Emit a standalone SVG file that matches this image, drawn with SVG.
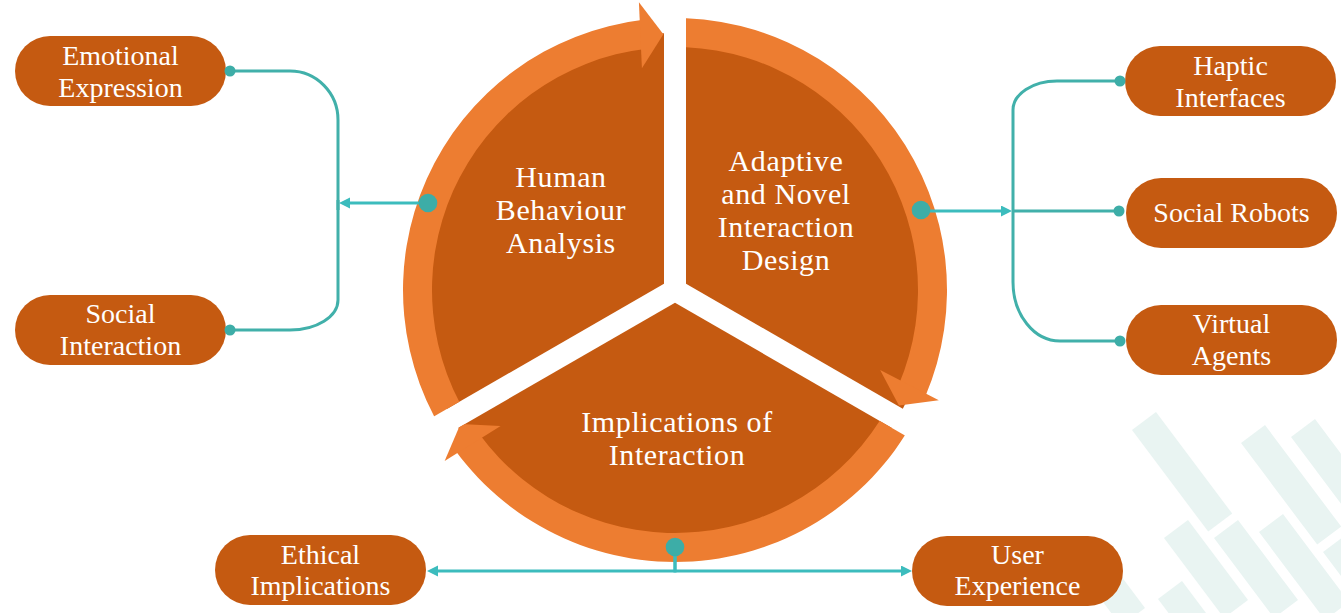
<svg xmlns="http://www.w3.org/2000/svg" width="1341" height="613" viewBox="0 0 1341 613">
<style>
.stripe{fill:#E9F4F2}
.dark{fill:#C55A11}
.ring{fill:#ED7D31}
.box{fill:#C55A11}
.ntext{font-family:"Liberation Serif","Times New Roman",serif;font-size:28px;fill:#FFFFFF;text-anchor:middle}
.ctext{font-family:"Liberation Serif","Times New Roman",serif;font-size:30px;letter-spacing:0.6px;fill:#FFFFFF;text-anchor:middle}
.branch{fill:none;stroke:#41B0AA;stroke-width:3}
.arrowline{fill:none;stroke:#3CBCBD;stroke-width:3}
.bigdot{fill:#3DADA7}
.smalldot{fill:#3DADA7}
</style>
<defs>
<marker id="ah" markerUnits="userSpaceOnUse" markerWidth="12" markerHeight="12" refX="1" refY="5.5" orient="auto">
<path d="M0,0 L11,5.5 L0,11 Z" fill="#3CBCBD"/>
</marker>
<clipPath id="clipA"><polygon points="664,283.65 144.4,583.65 57.8,-66.35 664,-316.35"/></clipPath>
<clipPath id="clipB"><polygon points="686,283.65 686,-316.35 1292.2,-66.35 1205.6,583.65"/></clipPath>
<clipPath id="clipC"><polygon points="675,302.7 1194.6,602.7 675,1002.7 155.4,602.7"/></clipPath>
</defs>

<g id="background">
<rect class="stripe" x="0" y="0" width="30" height="127" transform="translate(1132,430) rotate(-36.87)"/>
<rect class="stripe" x="0" y="0" width="30" height="127" transform="translate(1241,443) rotate(-36.87)"/>
<rect class="stripe" x="0" y="0" width="30" height="200" transform="translate(1291,437) rotate(-36.87)"/>
<rect class="stripe" x="0" y="0" width="30" height="100" transform="translate(1164,538) rotate(-36.87)"/>
<rect class="stripe" x="0" y="0" width="30" height="100" transform="translate(1214,538) rotate(-36.87)"/>
<rect class="stripe" x="0" y="0" width="30" height="110" transform="translate(1259,532) rotate(-36.87)"/>
<rect class="stripe" x="0" y="0" width="30" height="100" transform="translate(1323,552) rotate(-36.87)"/>
<rect class="stripe" x="0" y="0" width="30" height="40" transform="translate(1158,599) rotate(-36.87)"/>
<rect class="stripe" x="0" y="0" width="30" height="40" transform="translate(1097,594) rotate(-36.87)"/>
</g>

<g id="segment-human-behaviour">
<g clip-path="url(#clipA)">
<circle class="dark" cx="675" cy="290" r="257"/>
<path class="ring" d="M452.19,446.01 A272,272 0 0 1 643.27,19.86 L646.65,48.66 A243,243 0 0 0 475.95,429.38 Z"/>
<polygon class="ring" points="638.91,2.33 663.39,34.26 641.91,68.27"/>
</g>
<text class="ctext" x="561" y="187">Human</text>
<text class="ctext" x="561" y="220">Behaviour</text>
<text class="ctext" x="561" y="253">Analysis</text>
</g>

<g id="segment-adaptive-design">
<g clip-path="url(#clipB)">
<circle class="dark" cx="675" cy="290" r="257"/>
<path class="ring" d="M651.29,19.04 A272,272 0 0 1 925.19,396.72 L898.52,385.34 A243,243 0 0 0 653.82,47.93 Z"/>
<polygon class="ring" points="938.8,400.28 898.93,405.58 880.16,370"/>
</g>
<text class="ctext" x="786" y="170.5">Adaptive</text>
<text class="ctext" x="786" y="203.5">and Novel</text>
<text class="ctext" x="786" y="236.5">Interaction</text>
<text class="ctext" x="786" y="269.5">Design</text>
</g>

<g id="segment-implications">
<g clip-path="url(#clipC)">
<circle class="dark" cx="675" cy="290" r="257"/>
<path class="ring" d="M921.52,404.95 A272,272 0 0 1 455.51,450.65 L478.91,433.52 A243,243 0 0 0 895.23,392.7 Z"/>
<polygon class="ring" points="500.62,426.09 460.44,424.07 444.64,461.07"/>
</g>
<text class="ctext" x="677" y="431.5">Implications of</text>
<text class="ctext" x="677" y="464.5">Interaction</text>
</g>

<g id="node-emotional-expression">
<rect class="box" x="15" y="36" width="211" height="70" rx="35"/>
<text class="ntext" x="120.5" y="65">Emotional</text>
<text class="ntext" x="120.5" y="97">Expression</text>
</g>
<g id="node-social-interaction">
<rect class="box" x="15" y="295" width="211" height="70" rx="35"/>
<text class="ntext" x="120.5" y="323">Social</text>
<text class="ntext" x="120.5" y="355">Interaction</text>
</g>
<g id="node-haptic-interfaces">
<rect class="box" x="1125" y="46" width="211" height="70" rx="35"/>
<text class="ntext" x="1230.5" y="75">Haptic</text>
<text class="ntext" x="1230.5" y="107">Interfaces</text>
</g>
<g id="node-social-robots">
<rect class="box" x="1126" y="178" width="211" height="70" rx="35"/>
<text class="ntext" x="1231.5" y="222">Social Robots</text>
</g>
<g id="node-virtual-agents">
<rect class="box" x="1126" y="305" width="211" height="70" rx="35"/>
<text class="ntext" x="1231.5" y="333">Virtual</text>
<text class="ntext" x="1231.5" y="365">Agents</text>
</g>
<g id="node-ethical-implications">
<rect class="box" x="215" y="535" width="211" height="70" rx="35"/>
<text class="ntext" x="320.5" y="564">Ethical</text>
<text class="ntext" x="320.5" y="595">Implications</text>
</g>
<g id="node-user-experience">
<rect class="box" x="912" y="536" width="211" height="70" rx="35"/>
<text class="ntext" x="1017.5" y="564">User</text>
<text class="ntext" x="1017.5" y="595">Experience</text>
</g>

<g id="connectors">
<path class="branch" d="M230,71 H290 A48,49 0 0 1 338,120 V210"/>
<path class="branch" d="M230,330 H290 A48,30 0 0 0 338,300 V200"/>
<path class="arrowline" d="M428,203 H349" marker-end="url(#ah)"/>
<circle class="smalldot" cx="230" cy="71" r="5.5"/>
<circle class="smalldot" cx="230" cy="330" r="5.5"/>
<circle class="bigdot" cx="428" cy="203" r="9.3"/>

<path class="branch" d="M1120,81 H1057 A44,29 0 0 0 1013,110 V282 A47,59 0 0 0 1060,341 H1120"/>
<path class="branch" d="M1013,211 H1119"/>
<path class="arrowline" d="M921,211 H1002" marker-end="url(#ah)"/>
<circle class="smalldot" cx="1120" cy="81" r="5.5"/>
<circle class="smalldot" cx="1119" cy="211" r="5.5"/>
<circle class="smalldot" cx="1120" cy="341" r="5.5"/>
<circle class="bigdot" cx="921" cy="210" r="9.3"/>

<path class="arrowline" d="M675,547 V571 H437" marker-end="url(#ah)"/>
<path class="arrowline" d="M675,547 V571 H902" marker-end="url(#ah)"/>
<circle class="bigdot" cx="675" cy="547" r="9.3"/>
</g>
</svg>
